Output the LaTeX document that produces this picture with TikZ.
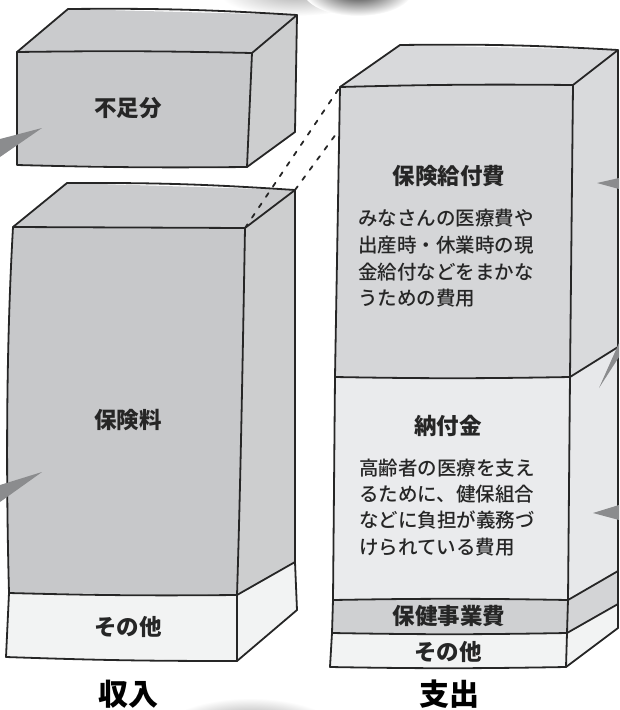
\documentclass[tikz,border=0pt]{standalone}
\usepackage{fontspec}
\setmainfont{Noto Sans CJK JP}
\newfontfamily\bodyfont{Noto Sans CJK JP Medium}
\newfontfamily\heavyfont{Noto Sans CJK JP Black}
\definecolor{ink}{HTML}{262626}
\definecolor{lfront}{HTML}{C7C8CA}
\definecolor{ltop}{HTML}{CACBCD}
\definecolor{lside}{HTML}{CDCECF}
\definecolor{rfront}{HTML}{D5D6D8}
\definecolor{rtop}{HTML}{D8D9DB}
\definecolor{rside}{HTML}{D9DADC}
\definecolor{nfront}{HTML}{EAEBED}
\definecolor{nside}{HTML}{E7E8EA}
\definecolor{hfront}{HTML}{CFD0D2}
\definecolor{hside}{HTML}{D3D4D6}
\definecolor{other}{HTML}{F2F3F3}
\definecolor{ptr}{HTML}{8B8C8E}
\begin{document}
\begin{tikzpicture}[x=1pt,y=-1pt,line join=round,line cap=round,
  outline/.style={draw=ink,line width=1.8pt},
  ttl/.style={font=\bfseries\fontsize{22.5}{26}\selectfont,text=ink,inner sep=0pt},
  bodyline/.style={font=\bodyfont\fontsize{19.5}{26}\selectfont,text=ink,anchor=base west,inner sep=0pt},
  bigttl/.style={font=\heavyfont\fontsize{30}{32}\selectfont,text=black,inner sep=0pt},
  pointer/.style={fill=ptr},
  guide/.style={draw=ink,line width=1.8pt,dash pattern=on 4.5pt off 8pt}]
\useasboundingbox (0,0) rectangle (619,710);
\clip (0,0) rectangle (619,710);

% blurred blobs at the edges
\shade[inner color=black!30,outer color=white] (295,-6) ellipse [x radius=75,y radius=22];
\shade[inner color=black!85,outer color=white] (358,-10) ellipse [x radius=55,y radius=26];
\shade[inner color=black!60,outer color=white] (250,738) ellipse [x radius=95,y radius=40];

% ---------- upper left box
\coordinate (a1) at (17,52);
\coordinate (a2) at (252,53);
\coordinate (a3) at (247,167);
\coordinate (a4) at (17,165);
\coordinate (a5) at (68,9);
\coordinate (a6) at (297,15);
\coordinate (a7) at (295,132);
\fill[ltop] (a1)--(a5)--(a6)--(a2)--cycle;
\fill[lside] (a2)--(a6)--(a7)--(a3)--cycle;
\fill[lfront] (a1)--(a2)--(a3)--(a4)--cycle;
\draw[outline] (a1)--(a5) to[bend left=2] (a6)--(a7)--(a3) to[bend left=1] (a4)--cycle;
\draw[outline] (a1) to[bend left=1] (a2)--(a3);
\draw[outline] (a2)--(a6);

% ---------- lower left box
\coordinate (b1) at (13,227);
\coordinate (b2) at (245,228);
\coordinate (b3) at (295,190);
\coordinate (b4) at (67,183);
\coordinate (b5) at (237,595);
\coordinate (b6) at (9,593);
\coordinate (b7) at (6,657);
\coordinate (b8) at (237,661);
\coordinate (b9) at (295,562);
\coordinate (b10) at (297,610);
\fill[ltop] (b1)--(b4)--(b3)--(b2)--cycle;
\fill[lside] (b2)--(b3)--(b9)--(b5)--cycle;
\fill[other] (b5)--(b9)--(b10)--(b8)--cycle;
\fill[lfront] (b1)--(b2)--(b5)--(b6) .. controls (6,480) and (6,350) .. (b1);
\fill[other] (b6)--(b5)--(b8)--(b7)--cycle;
\draw[outline] (b1)--(b4) to[bend left=2] (b3)--(b9)--(b10)--(b8) to[bend left=1] (b7)--(b6) .. controls (6,480) and (6,350) .. (b1);
\draw[outline] (b1)--(b2) .. controls (242,400) and (240,500) .. (b5)--(b8);
\draw[outline] (b2)--(b3);
\draw[outline] (b6) to[bend right=1] (b5)--(b9);

% ---------- right box
\coordinate (c1) at (340,87);
\coordinate (c2) at (573,85);
\coordinate (c3) at (618,50);
\coordinate (c4) at (400,45);
\coordinate (d1) at (335,377);
\coordinate (d2) at (570,377);
\coordinate (d3) at (618,347);
\coordinate (e1) at (333,600);
\coordinate (e2) at (568,600);
\coordinate (e3) at (618,571);
\coordinate (f1) at (332,633);
\coordinate (f2) at (567,633);
\coordinate (f3) at (618,604);
\coordinate (g1) at (330,667);
\coordinate (g2) at (566,667);
\coordinate (g3) at (618,628);
\coordinate (h1) at (339,130);
\fill[rtop] (c1)--(c4)--(c3)--(c2)--cycle;
\fill[rfront] (c1)--(c2)--(d2)--(d1)--cycle;
\fill[rside] (c2)--(c3)--(d3)--(d2)--cycle;
\fill[nfront] (d1)--(d2)--(e2)--(e1)--cycle;
\fill[nside] (d2)--(d3)--(e3)--(e2)--cycle;
\fill[hfront] (e1)--(e2)--(f2)--(f1)--cycle;
\fill[hside] (e2)--(e3)--(f3)--(f2)--cycle;
\fill[other] (f1)--(f2)--(g2)--(g1)--cycle;
\fill[other] (f2)--(f3)--(g3)--(g2)--cycle;
\draw[outline] (c1)--(c4) to[bend left=2] (c3)--(g3)--(g2) to[bend left=1] (g1)--(f1)--(e1)--(d1)--(c1);
\draw[outline] (c1) to[bend left=1] (c2)--(d2)--(e2)--(f2)--(g2);
\draw[outline] (c2)--(c3);
\draw[outline] (d1) to[bend right=1] (d2)--(d3);
\draw[outline] (e1) to[bend left=1] (e2)--(e3);
\draw[outline] (f1) to[bend right=1] (f2)--(f3);

% ---------- dashed guide lines
\draw[guide] (b2) -- (c1);
\draw[guide] (b3) -- (h1);

% ---------- callout pointers
\fill[pointer] (0,139)--(42,128)--(0,157)--cycle;
\fill[pointer] (0,485)--(42,472)--(0,502)--cycle;
\fill[pointer] (619,178)--(597,183)--(619,189)--cycle;
\fill[pointer] (619,343)--(599,388)--(619,357)--cycle;
\fill[pointer] (619,505)--(593,513)--(619,520)--cycle;

% ---------- texts
\node[ttl] (t1) at (128,108) {不足分};
\node[ttl] (t2) at (128,420) {保険料};
\node[ttl] (t3) at (128,627) {その他};
\node[bigttl] (t4) at (128,694) {収入};
\node[ttl] (t5) at (449,176) {保険給付費};
\node[bodyline] (p1) at (358,225) {みなさんの医療費や};
\node[bodyline] (p2) at (358,252) {出産時・休業時の現};
\node[bodyline] (p3) at (358,279) {金給付などをまかな};
\node[bodyline] (p4) at (358,305) {うための費用};
\node[ttl] (t6) at (448,426) {納付金};
\node[bodyline] (q1) at (359,475) {高齢者の医療を支え};
\node[bodyline] (q2) at (359,501) {るために、健保組合};
\node[bodyline] (q3) at (359,527) {などに負担が義務づ};
\node[bodyline] (q4) at (359,554) {けられている費用};
\node[ttl] (t7) at (449,616) {保健事業費};
\node[ttl] (t8) at (448,652) {その他};
\node[bigttl] (t9) at (449,694) {支出};
\end{tikzpicture}
\end{document}
